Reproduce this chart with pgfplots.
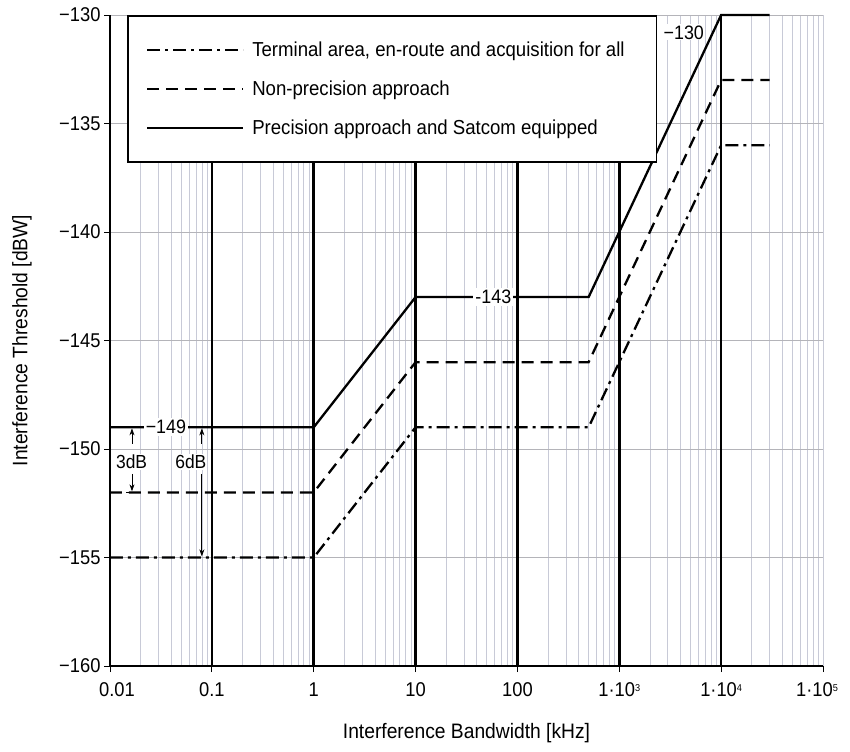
\documentclass[border=0pt]{standalone}
\usepackage{fontspec}
\setmainfont{Liberation Sans}[FakeStretch=0.92]
\usepackage{pgfplots}
\pgfplotsset{compat=1.18}
\usetikzlibrary{arrows.meta}
\definecolor{gridc}{RGB}{200,202,215}
\definecolor{gridy}{RGB}{180,180,185}
\newcommand{\supx}[1]{\raisebox{5bp}{\fontsize{10}{10}\selectfont #1}}
\begin{document}
\begin{tikzpicture}
\begin{axis}[
  name=ax,
  scale only axis, width=713bp, height=651bp,
  xmode=log, xmin=0.01, xmax=1e5, ymin=-160, ymax=-130,
  xtick={0.01,0.1,1,10,100,1000,10000,100000},
  xticklabels={\hspace*{14bp}0.01,0.1,1,10,100,1·10\supx{3},1·10\supx{4},1·10\supx{5}\hspace*{12bp}},
  ytick={-160,-155,-150,-145,-140,-135,-130},
  yticklabels={−160,−155,−150,−145,−140,−135,−130},
  axis lines*=left,
  axis line style={-, black, line width=1.1pt},
  tick align=outside, major tick length=6bp, minor tick length=0pt,
  tick style={black, line width=0.8pt},
  tick label style={font=\fontsize{20}{22}\selectfont},
  xticklabel style={yshift=-7bp},
  xmajorgrids, xminorgrids, ymajorgrids,
  major x grid style={gridc, line width=0.8pt},
  minor x grid style={gridc, line width=0.8pt},
  major y grid style={gridy, line width=0.8pt},
  extra x ticks={0.1,1,10,100,1000,10000},
  extra x tick labels={},
  extra x tick style={grid=major, major x grid style={black, line width=2.6pt}, major tick length=0pt},
  xlabel={Interference Bandwidth [kHz]},
  ylabel={Interference Threshold [dBW]},
  every axis x label/.style={at={(axis description cs:0.5,-0.103)}, anchor=center, font=\fontsize{21}{23}\selectfont},
  every axis y label/.style={at={(axis description cs:-0.1234,0.5)}, anchor=center, rotate=90, font=\fontsize{21}{23}\selectfont},
  clip=false,
  legend image code/.code={\draw[#1, line width=2.4pt] (0bp,0bp) -- (96bp,0bp);},
  legend cell align=left,
  legend style={at={(axis description cs:0.024,1)}, anchor=north west,
    draw=black, line width=1.6pt, fill=white,
    font=\fontsize{20.3}{22}\selectfont,
    inner xsep=18bp, inner ysep=24bp, row sep=19bp,
    /tikz/every odd column/.append style={column sep=6bp}},
]
\addplot[black, line width=2.3pt, dash pattern=on 13bp off 5bp on 3bp off 5bp] coordinates {
  (0.01,-155) (1,-155) (10,-149) (500,-149) (10000,-136) (30000,-136)};
\addlegendentry{Terminal area, en-route and acquisition for all\hspace*{12bp}}
\addplot[black, line width=2.3pt, dash pattern=on 12bp off 7bp] coordinates {
  (0.01,-152) (1,-152) (10,-146) (500,-146) (10000,-133) (30000,-133)};
\addlegendentry{Non-precision approach}
\addplot[black, line width=2.3pt] coordinates {
  (0.01,-149) (1,-149) (10,-143) (500,-143) (10000,-130) (30000,-130)};
\addlegendentry{Precision approach and Satcom equipped}

\node[fill=white, inner sep=2bp, font=\fontsize{19.5}{21}\selectfont] at (axis cs:0.0354,-149) {−149};
\node[fill=white, inner sep=2bp, font=\fontsize{19.5}{21}\selectfont] at (axis cs:58,-143) {-143};
\node[fill=white, inner sep=1bp, font=\fontsize{19.5}{21}\selectfont] at (axis cs:4300,-130.8) {−130};

\draw[line width=0.8pt, -{Stealth[length=7bp,width=5bp]}] (axis cs:0.01644,-149.75) -- (axis cs:0.01644,-149.05);
\draw[line width=0.8pt, -{Stealth[length=7bp,width=5bp]}] (axis cs:0.01644,-151.15) -- (axis cs:0.01644,-151.95);
\draw[line width=0.8pt] (axis cs:0.0145,-152) -- (axis cs:0.0185,-152);
\node[fill=white, inner sep=1bp, font=\fontsize{19}{21}\selectfont] at (axis cs:0.0163,-150.6) {3dB};

\draw[line width=0.8pt, -{Stealth[length=7bp,width=5bp]}] (axis cs:0.0798,-149.75) -- (axis cs:0.0798,-149.05);
\draw[line width=0.8pt, -{Stealth[length=7bp,width=5bp]}] (axis cs:0.0798,-151.15) -- (axis cs:0.0798,-154.95);
\node[fill=white, inner sep=1bp, font=\fontsize{19}{21}\selectfont] at (axis cs:0.0622,-150.6) {6dB};
\end{axis}
\pgfresetboundingbox
\path ([shift={(-110bp,-86bp)}]ax.south west) rectangle ([shift={(27bp,15bp)}]ax.north east);
\end{tikzpicture}
\end{document}
